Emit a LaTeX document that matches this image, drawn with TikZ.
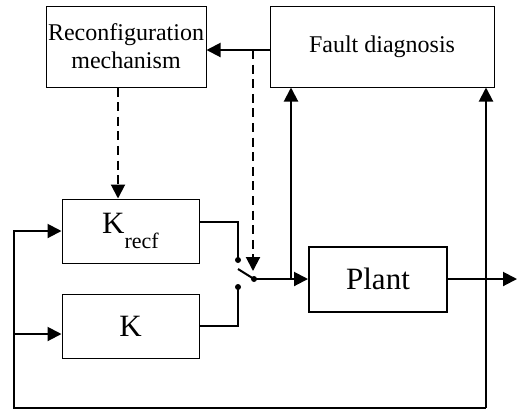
\documentclass[tikz,border=0pt]{standalone}
\usepackage{fontspec}
\setmainfont{Liberation Serif}
\usetikzlibrary{arrows.meta,positioning}
\tikzset{block/.style={draw,line width=.5pt,align=center,inner sep=1pt,font=\fontsize{12}{14}\selectfont},
  bigblock/.style={block,font=\fontsize{15.5}{18}\selectfont},
  sig/.style={line width=1pt,-{Triangle[length=7pt,width=7pt]}},
  wire/.style={line width=1pt},
  ctrl/.style={line width=1pt,dash pattern=on 4.5pt off 2.8pt,-{Triangle[length=7pt,width=7pt]}},
  contact/.style={circle,fill,inner sep=0pt,minimum size=3pt}}
\begin{document}
\begin{tikzpicture}[x=.5pt,y=-.5pt]
\useasboundingbox (0,0) rectangle (518,409);
% blocks
\node[block,minimum width=80pt,minimum height=40.5pt] (recon) at (126,46.5) {Reconfiguration\\mechanism};
\node[block,minimum width=112pt,minimum height=40.5pt] (fault) at (382,46.5) {Fault diagnosis};
\node[bigblock,minimum width=68.5pt,minimum height=32pt] (krecf) at (130.5,231) {K\raisebox{-1.1ex}{\fontsize{11}{12}\selectfont recf}};
\node[bigblock,minimum width=68.5pt,minimum height=32pt] (k) at (130.5,326) {K};
\node[bigblock,line width=1pt,minimum width=69pt,minimum height=32.5pt] (plant) at (378,279) {Plant};
% switch
\coordinate (c1) at (238,260);
\coordinate (c2) at (238,287);
\coordinate (blade) at (238,269);
\node[contact] (pivot) at (254,279) {};
\node[contact] at (c1) {};
\node[contact] at (c2) {};
\draw[wire] ([yshift=4.5pt]krecf.east) -| (c1);
\draw[wire] (k.east) -| (c2);
\draw[wire] (blade) -- (pivot.center);
% signals
\coordinate (tap) at (253,50);
\coordinate (swtip) at (253,271);
\coordinate (j1) at (291,279);
\coordinate (out) at (517,279);
\coordinate (fbb) at (486,408);
\coordinate (lb) at (14,408);
\coordinate (kin) at (14,334);
\draw[sig] ([yshift=-1.75pt]fault.west) -- ([yshift=-1.75pt]recon.east);
\draw[ctrl] ([xshift=-4pt]recon.south) -- ([xshift=-4pt]recon.south |- krecf.north);
\draw[ctrl] (tap) -- (swtip);
\draw[sig] (pivot.center) -- (plant.west);
\draw[sig] (j1) -- (j1 |- fault.south);
\draw[sig] (plant.east) -- (out);
\draw[sig] (fbb) -- (fbb |- fault.south);
\draw[sig] (fbb) -- (lb) |- (krecf.west);
\draw[sig] (kin) -- (kin -| k.west);
\end{tikzpicture}
\end{document}
